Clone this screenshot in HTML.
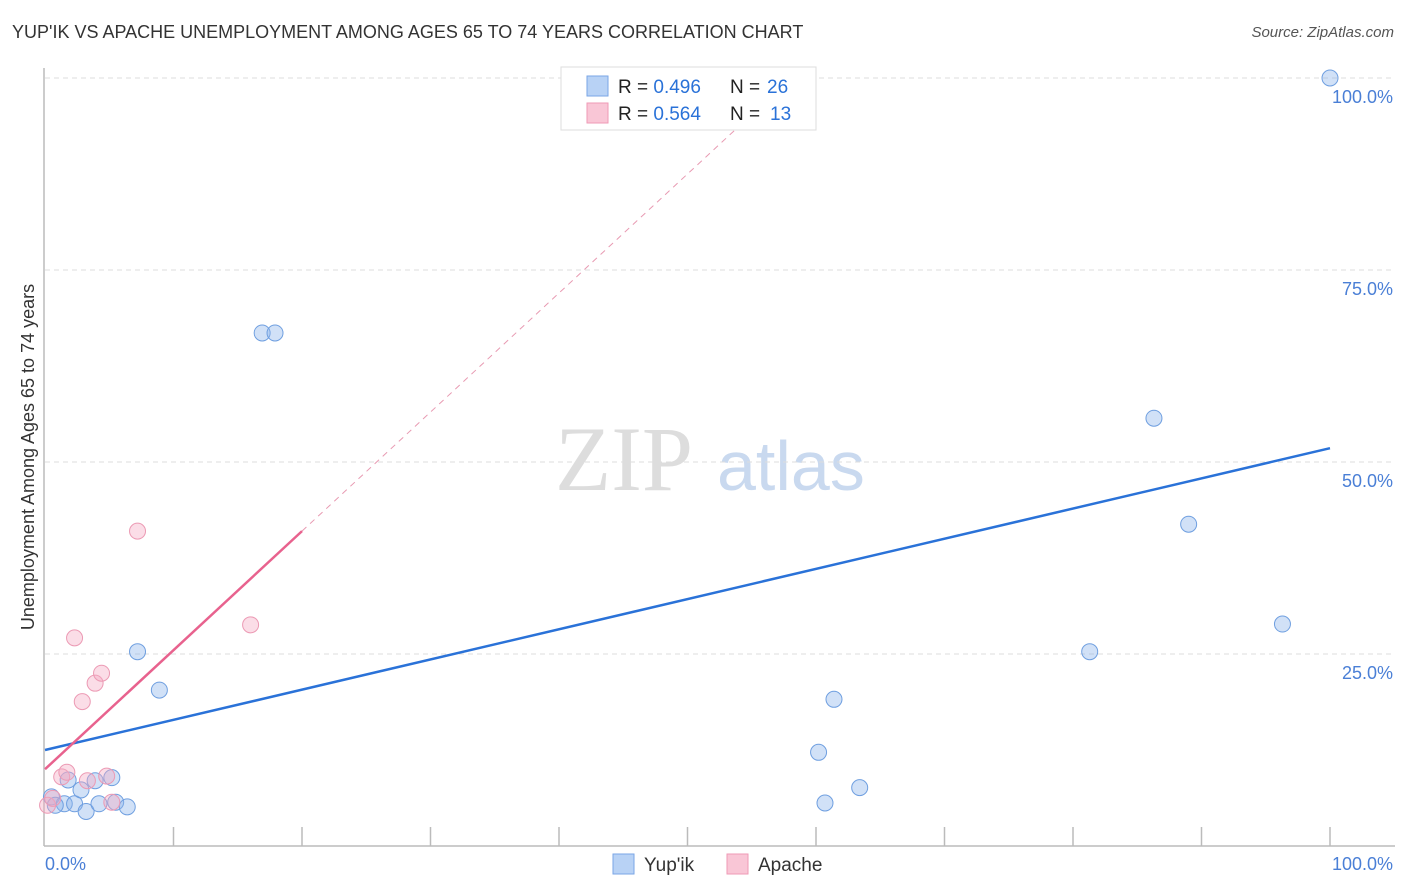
<!DOCTYPE html>
<html><head><meta charset="utf-8">
<style>
body{margin:0;background:#fff;font-family:"Liberation Sans",sans-serif;}
#wrap{position:relative;width:1406px;height:892px;overflow:hidden;}
.t{position:absolute;white-space:nowrap;}
</style></head>
<body>
<div id="wrap">
<div class="t" style="left:12px;top:22px;font-size:18px;color:#333;">YUP'IK VS APACHE UNEMPLOYMENT AMONG AGES 65 TO 74 YEARS CORRELATION CHART</div>
<div class="t" style="right:12px;top:24px;font-size:15px;color:#555;font-style:italic;">Source: ZipAtlas.com</div>
<svg id="chart" width="1406" height="892" style="position:absolute;left:0;top:0"></svg>
</div>
<script>
const yupikX=[0.5,1.5,2.3,2.8,3.2,3.9,4.2,5.2,5.5,6.4,7.2,8.9,16.9,17.9,50,60.2,60.7,61.4,63.4,81.3,86.3,89,96.3,100,0.8,1.8];
const yupikY=[6.4,5.5,5.5,7.3,4.5,8.5,5.5,8.9,5.7,5.1,25.3,20.3,66.8,66.8,100,12.2,5.6,19.1,7.6,25.3,55.7,41.9,28.9,100,5.3,8.6];
const apacheX=[0.2,0.6,1.3,1.7,2.3,2.9,3.3,3.9,4.4,4.8,5.2,7.2,16];
const apacheY=[5.3,6.2,9,9.6,27.1,18.8,8.5,21.2,22.5,9.1,5.7,41,28.8];
const yupikTrend=[12.5,51.8];
const apacheTrend=[10,41];
const yTicks=[25,50,75,100];
const yTickLabels=["25.0%","50.0%","75.0%","100.0%"];
const xTickVals=[0,10,20,30,40,50,60,70,80,90,100];

const svg=document.getElementById('chart');
const NS="http://www.w3.org/2000/svg";
const X0=45,X1=1330,Y0=846,Y1=78;
const sx=v=>X0+(X1-X0)*v/100;
const sy=v=>Y0-(Y0-Y1)*v/100;
function mk(tag,attrs,parent){const e=document.createElementNS(NS,tag);for(const k in attrs)e.setAttribute(k,attrs[k]);(parent||svg).appendChild(e);return e;}

// watermark
let wm=mk('text',{x:555,y:490,'font-size':92,'font-family':'Liberation Serif,serif',fill:'#ddd'});
wm.textContent='ZIP';


let wm2=mk('text',{x:717,y:490,'font-size':70,'font-family':'Liberation Sans,sans-serif',fill:'#c9d9ef'});
wm2.textContent='atlas';



// gridlines
yTicks.forEach((v,i)=>{
  const g=mk('line',{x1:X0,x2:1395,y1:sy(v),y2:sy(v),stroke:'#ddd','stroke-dasharray':'5,4'});
  
  
  const t=mk('text',{x:1393,y:sy(v)+25,'text-anchor':'end','font-size':18,fill:'#4a7fd6'});
  t.textContent=yTickLabels[i];
  
  
});
// axes
let ax=mk('line',{x1:44,x2:44,y1:68,y2:846,stroke:'#bbb','stroke-width':1.5});


let axx=mk('line',{x1:44,x2:1395,y1:846,y2:846,stroke:'#bbb','stroke-width':1.5});


xTickVals.forEach(v=>{
  if(v===0)return;
  const t=mk('line',{x1:sx(v),x2:sx(v),y1:827,y2:846,stroke:'#bbb','stroke-width':1.5});
  
  
});
let xl0=mk('text',{x:45,y:870,'font-size':18,fill:'#4a7fd6'});xl0.textContent='0.0%';


let xl1=mk('text',{x:1393,y:870,'text-anchor':'end','font-size':18,fill:'#4a7fd6'});xl1.textContent='100.0%';


let yt=mk('text',{x:34,y:457,'font-size':18,fill:'#333','text-anchor':'middle',transform:'rotate(-90 34 457)'});
yt.textContent='Unemployment Among Ages 65 to 74 years';



// points
yupikX.forEach((x,i)=>{
  const c=mk('circle',{cx:sx(x),cy:sy(yupikY[i]),r:8,fill:'rgba(140,180,235,0.4)',stroke:'#6f9fe0','stroke-width':1});
  
  
});
apacheX.forEach((x,i)=>{
  const c=mk('circle',{cx:sx(x),cy:sy(apacheY[i]),r:8,fill:'rgba(245,170,195,0.4)',stroke:'#ec9ab4','stroke-width':1});
  
  
});
// trends
let tb=mk('line',{x1:sx(0),y1:sy(yupikTrend[0]),x2:sx(100),y2:sy(yupikTrend[1]),stroke:'#2a72d8','stroke-width':2.5});


const aSlope=(apacheTrend[1]-apacheTrend[0])/20;
const xEnd=(100-apacheTrend[0])/aSlope;
let td=mk('line',{x1:sx(20),y1:sy(apacheTrend[1]),x2:sx(xEnd),y2:sy(100),stroke:'#e89ab2','stroke-width':1,'stroke-dasharray':'6,5'});


let tp=mk('line',{x1:sx(0),y1:sy(apacheTrend[0]),x2:sx(20),y2:sy(apacheTrend[1]),stroke:'#e8628e','stroke-width':2.5});



// legend box
const lg=mk('g',{});


mk('rect',{x:561,y:67,width:255,height:63,fill:'#fff',stroke:'#ddd'},lg);
[[0,'0.496','26','#b8d2f5','#7aa6e6'],[1,'0.564','13','#f9c6d6','#ef9ab6']].forEach(([i,r,n,f,s])=>{
  const y=76+i*27;
  const sw=mk('rect',{x:587,y:y,width:21,height:20,fill:f,stroke:s},lg);
  
  
  const t=mk('text',{x:618,y:y+17,'font-size':19,fill:'#222'},lg);
  t.innerHTML='R = <tspan fill="#2a72d8">'+r+'</tspan><tspan x="730">N = </tspan><tspan fill="#2a72d8" x="'+(n==='13'?770:767)+'">'+n+'</tspan>';
  
  
});

// bottom legend
[[613,'Yup\'ik','#b8d2f5','#7aa6e6'],[727,'Apache','#f9c6d6','#ef9ab6']].forEach(([x,l,f,s])=>{
  const r=mk('rect',{x:x,y:854,width:21,height:20,fill:f,stroke:s});
  
  
  const t=mk('text',{x:x+31,y:871,'font-size':19,fill:'#333'});
  t.textContent=l;
  
  
});
</script>
</body></html>
